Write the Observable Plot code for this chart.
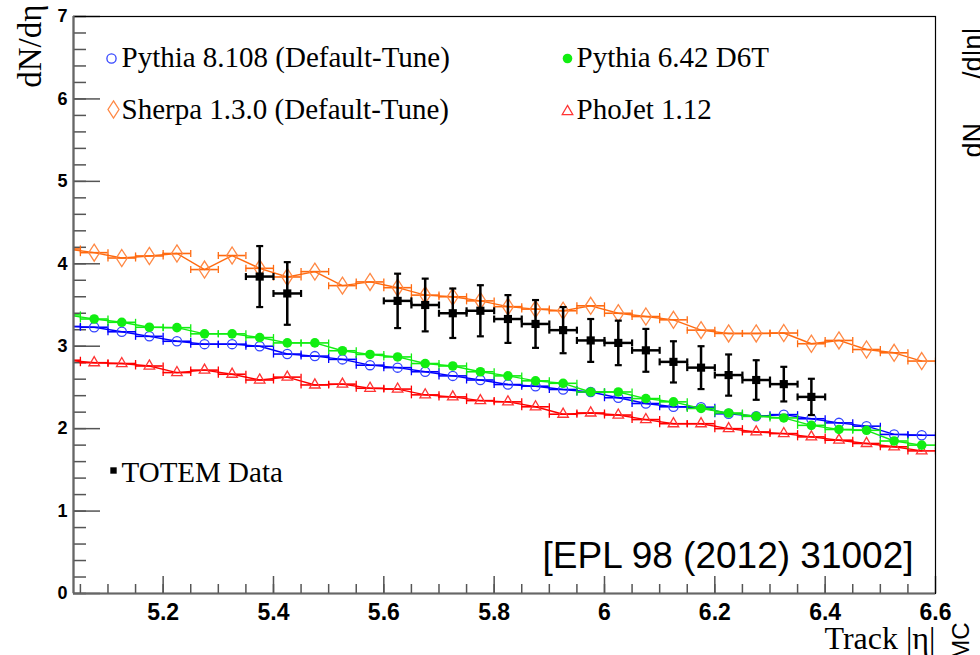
<!DOCTYPE html>
<html><head><meta charset="utf-8">
<script src="https://cdn.jsdelivr.net/npm/d3@7"></script>
<script src="https://cdn.jsdelivr.net/npm/@observablehq/plot@0.6"></script>
<style>
html,body{margin:0;padding:0;background:#fff;}
#chart{position:relative;width:980px;height:655px;overflow:hidden;}
</style></head><body><div id="chart"></div>
<script>
// ---- data ----
const bins = [5.025,5.075,5.125,5.175,5.225,5.275,5.325,5.375,5.425,5.475,5.525,5.575,5.625,5.675,5.725,5.775,
              5.825,5.875,5.925,5.975,6.025,6.075,6.125,6.175,6.225,6.275,6.325,6.375,6.425,6.475,6.525,6.575];
const halfBin = 0.025;
const sherpa  = [4.18,4.135,4.07,4.095,4.125,3.93,4.10,3.945,3.84,3.905,3.735,3.78,3.71,3.62,3.60,3.55,
                 3.48,3.45,3.43,3.49,3.40,3.36,3.32,3.195,3.155,3.155,3.16,3.03,3.07,2.96,2.92,2.82];
const pythia8 = [3.24,3.23,3.175,3.12,3.06,3.025,3.025,3.00,2.905,2.88,2.84,2.77,2.74,2.69,2.64,2.59,
                 2.535,2.515,2.475,2.445,2.375,2.305,2.265,2.26,2.18,2.15,2.17,2.12,2.07,2.03,1.93,1.92];
const pythia6 = [3.38,3.33,3.29,3.23,3.225,3.15,3.15,3.105,3.04,3.04,2.945,2.90,2.87,2.79,2.76,2.69,
                 2.64,2.58,2.55,2.445,2.445,2.365,2.325,2.245,2.19,2.15,2.13,2.04,1.99,1.98,1.85,1.80];
const phojet  = [2.83,2.80,2.79,2.76,2.68,2.71,2.66,2.59,2.625,2.53,2.54,2.49,2.48,2.41,2.385,2.34,
                 2.325,2.265,2.175,2.19,2.165,2.11,2.06,2.06,2.00,1.96,1.94,1.90,1.86,1.82,1.78,1.73];
const totemX   = [5.375,5.425,5.625,5.675,5.725,5.775,5.825,5.875,5.925,5.975,6.025,6.075,6.125,6.175,6.225,6.275,6.325,6.375];
const totemY   = [3.845,3.64,3.55,3.50,3.40,3.43,3.33,3.27,3.195,3.07,3.04,2.95,2.81,2.74,2.65,2.59,2.54,2.385];
const totemErr = [0.37,0.38,0.33,0.32,0.30,0.31,0.29,0.29,0.28,0.26,0.27,0.26,0.25,0.26,0.25,0.24,0.21,0.22];
const xTickLabels = [5.2,5.4,5.6,5.8,6,6.2,6.4,6.6];
const yTickLabels = [0,1,2,3,4,5,6,7];
const legendNames = ["Pythia 8.108 (Default-Tune)","Sherpa 1.3.0 (Default-Tune)","Pythia 6.42 D6T","PhoJet 1.12","TOTEM Data"];
const xDomain = [5.0375, 6.6];
const yDomain = [0, 7];

// ---- layout ----
const W = 980, H = 655, mL = 73, mR = 45, mT = 16, mB = 62;
const plotW = W - mL - mR, plotH = H - mT - mB;
const serif = "'Liberation Serif','Times New Roman',serif";
const sans = "'Liberation Sans',Arial,Helvetica,sans-serif";

// custom symbols
const capV = {draw(ctx){ ctx.moveTo(0,-3.5); ctx.lineTo(0,3.5); }};
const capH = {draw(ctx){ ctx.moveTo(-3.5,0); ctx.lineTo(3.5,0); }};
const tallDiamond = {draw(ctx,size){ const r=Math.sqrt(size/Math.PI);
  ctx.moveTo(0,-1.55*r); ctx.lineTo(r,0); ctx.lineTo(0,1.55*r); ctx.lineTo(-r,0); ctx.closePath(); }};

function series(values, opt){
  const rows = bins.map((x,i)=>({x, y: values[i]}));
  const edges = rows.flatMap(d=>[{x:d.x-halfBin,y:d.y},{x:d.x+halfBin,y:d.y}]);
  return [
    Plot.ruleY(rows,{x1:d=>d.x-halfBin,x2:d=>d.x+halfBin,y:"y",stroke:opt.line,strokeWidth:1.6,clip:true}),
    Plot.line(rows,{x:"x",y:"y",stroke:opt.line,strokeWidth:1.4,clip:true}),
    Plot.dot(edges,{x:"x",y:"y",symbol:capV,r:3,stroke:opt.line,strokeWidth:1.3,fill:"none",clip:true}),
    Plot.dot(rows,{x:"x",y:"y",symbol:opt.symbol,r:opt.r,stroke:opt.mstroke,fill:opt.fill,strokeWidth:1.3,clip:true})
  ];
}

const S = {
  sherpa:  {line:"#ff6a10", mstroke:"#ff8844", fill:"none", symbol:tallDiamond, r:5.5},
  phojet:  {line:"#ff0000", mstroke:"#ff3333", fill:"none", symbol:"triangle", r:3.9},
  pythia8: {line:"#0000ff", mstroke:"#3344ff", fill:"none", symbol:"circle", r:4.6},
  pythia6: {line:"#11ee11", mstroke:"none", fill:"#11ee11", symbol:"circle", r:4.8}
};

const totem = totemX.map((x,i)=>({x, y: totemY[i], e: totemErr[i]}));
const totemHEnds = totem.flatMap(d=>[{x:d.x-halfBin,y:d.y},{x:d.x+halfBin,y:d.y}]);
const totemVEnds = totem.flatMap(d=>[{x:d.x,y:d.y-d.e},{x:d.x,y:d.y+d.e}]);

const xMinor = d3.range(5.05, 6.6, 0.05).map(v=>+v.toFixed(3));
const yMinor = d3.range(0, 7.0001, 0.2).map(v=>+v.toFixed(3));

function legendEntry(name, mx, my, tx, ty, dotOpt){
  return [
    Plot.dot([0],{frameAnchor:"top-left",dx:mx,dy:my,...dotOpt}),
    Plot.text([name],{frameAnchor:"top-left",dx:tx,dy:ty,textAnchor:"start",lineAnchor:"middle",fontFamily:serif,fontSize:29,fill:"#000"})
  ];
}

const chart = Plot.plot({
  width: W, height: H,
  marginLeft: mL, marginRight: mR, marginTop: mT, marginBottom: mB,
  x: {domain: xDomain},
  y: {domain: yDomain},
  style: {fontFamily: sans, background: "#fff", color: "#000"},
  marks: [
    // inward ticks
    Plot.ruleX(xMinor, {stroke:"#555", strokeWidth:1.5, insetTop: plotH - 9}),
    Plot.ruleX(xTickLabels, {stroke:"#555", strokeWidth:1.5, insetTop: plotH - 17}),
    Plot.ruleY(yMinor, {stroke:"#555", strokeWidth:1.5, insetRight: plotW - 13}),
    Plot.ruleY(yTickLabels, {stroke:"#555", strokeWidth:1.5, insetRight: plotW - 27}),
    // series
    ...series(sherpa, S.sherpa),
    ...series(phojet, S.phojet),
    ...series(pythia8, S.pythia8),
    ...series(pythia6, S.pythia6),
    // TOTEM data
    Plot.ruleX(totem, {x:"x", y1:d=>d.y-d.e, y2:d=>d.y+d.e, stroke:"#000", strokeWidth:2.5}),
    Plot.ruleY(totem, {x1:d=>d.x-halfBin, x2:d=>d.x+halfBin, y:"y", stroke:"#000", strokeWidth:2.5}),
    Plot.dot(totemHEnds, {x:"x", y:"y", symbol:capV, r:3, stroke:"#000", strokeWidth:2.2, fill:"none"}),
    Plot.dot(totemVEnds, {x:"x", y:"y", symbol:capH, r:3, stroke:"#000", strokeWidth:2.2, fill:"none"}),
    Plot.dot(totem, {x:"x", y:"y", symbol:"square", r:4.6, fill:"#000", stroke:"none"}),
    // frame
    Plot.frame({stroke:"#000", strokeWidth:1.2}),
    Plot.ruleX([xDomain[0]], {stroke:"#666", strokeWidth:2.2}),
    Plot.ruleY([yDomain[0]], {stroke:"#666", strokeWidth:2.2}),
    // axes labels
    Plot.axisX(xTickLabels, {tickSize:0, tickPadding:10, fontSize:23, fontWeight:"bold", tickFormat:d=>String(d), label:null}),
    Plot.axisY(yTickLabels, {tickSize:0, tickPadding:6, fontSize:18, fontWeight:"bold", tickFormat:d=>String(d), label:null}),
    // legend
    ...legendEntry(legendNames[0], 38, 42, 48, 41, {symbol:"circle", r:4.6, stroke:"#3344ff", fill:"none", strokeWidth:1.3}),
    ...legendEntry(legendNames[1], 40, 93, 48, 93, {symbol:tallDiamond, r:5.5, stroke:"#ff8844", fill:"none", strokeWidth:1.3}),
    ...legendEntry(legendNames[2], 494, 42, 503, 41, {symbol:"circle", r:4.8, fill:"#11ee11", stroke:"none"}),
    ...legendEntry(legendNames[3], 494, 95, 503, 93, {symbol:"triangle", r:3.9, stroke:"#ff3333", fill:"none", strokeWidth:1.3}),
    ...legendEntry(legendNames[4], 40, 454, 48, 456, {symbol:"square", r:3.6, fill:"#000", stroke:"none"}),
    // annotation
    Plot.text(["[EPL 98 (2012) 31002]"], {frameAnchor:"bottom-right", dx:-22, dy:-37, textAnchor:"end", lineAnchor:"middle", fontFamily:sans, fontSize:37, fill:"#000"}),
    // axis titles
    Plot.text(["dN/dη"], {frameAnchor:"top-left", dx:-43, dy:-12, rotate:-90, textAnchor:"end", lineAnchor:"middle", fontFamily:serif, fontSize:33, fill:"#000"}),
    Plot.text(["Track |η|"], {frameAnchor:"bottom-right", dx:0, dy:45, textAnchor:"end", lineAnchor:"middle", fontFamily:serif, fontSize:32, fill:"#000"}),
    // neighbouring panel remnants
    Plot.text(["dN"], {frameAnchor:"top-right", dx:38, dy:141, rotate:-90, textAnchor:"start", lineAnchor:"middle", fontFamily:sans, fontSize:27, fill:"#000"}),
    Plot.text(["/d|η|"], {frameAnchor:"top-right", dx:38, dy:11, rotate:-90, textAnchor:"end", lineAnchor:"middle", fontFamily:sans, fontSize:27, fill:"#000"}),
    Plot.text(["MC"], {frameAnchor:"bottom-right", dx:26, dy:29, rotate:-90, textAnchor:"end", lineAnchor:"middle", fontFamily:sans, fontSize:24, fill:"#000"})
  ]
});
document.getElementById("chart").appendChild(chart);
</script>
</body></html>
